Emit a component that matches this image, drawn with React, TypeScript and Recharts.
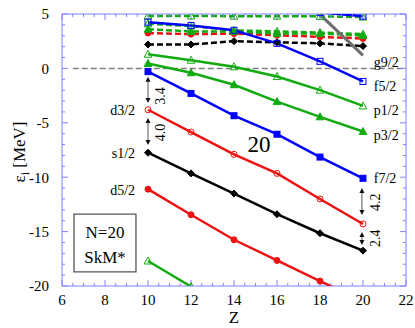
import React from 'react';
import { LineChart, Line, XAxis, YAxis, ReferenceLine, ReferenceArea, ReferenceDot } from 'recharts';

// ---------- data ----------
const Z = [10, 12, 14, 16, 18, 20];
const d52 = [-11.1, -13.45, -15.75, -17.65, -19.55, -21.4];
const s12 = [-7.75, -9.65, -11.5, -13.4, -15.15, -16.75];
const d32 = [-3.8, -5.85, -7.9, -9.65, -12.0, -14.3];
const f72 = [-0.3, -2.3, -4.35, -6.05, -8.15, -10.1];
const p32 = [0.45, -0.4, -1.5, -3.05, -4.45, -5.8];
const p12 = [1.3, 0.75, 0.15, -0.75, -2.0, -3.45];
const f52 = [4.25, 3.95, 3.5, 2.3, 0.65, -1.2];
const Zhigh = [18, 20];
const g92 = [4.95, 1.2];
const h112 = [5.15, 4.8];
const Zlow = [10, 12, 14];
const s12deep = [-17.7, -20.05, -22.3];
// dashed (unbound / resonance) levels
const gdTop = [4.82, 4.82, 4.8, 4.8, 4.78, 4.72];
const gdMid = [4.1, 3.9, 3.5, 3.4, 3.3, 3.15];
const gdLow = [3.6, 3.4, 3.4, 3.2, 3.2, 3.02];
const rdash = [3.25, 3.15, 3.2, 3.05, 2.9, 2.75];
const kdash = [2.2, 2.2, 2.5, 2.4, 2.3, 2.05];

const xTicks = [6, 8, 10, 12, 14, 16, 18, 20, 22];
const yTicks = [-20, -15, -10, -5, 0, 5];
const xMinor: number[] = [];
for (let v = 6; v <= 22.001; v += 0.5) xMinor.push(v);
const yMinor: number[] = [];
for (let v = -20; v <= 5; v += 1) yMinor.push(v);

const leftLabels = [
  { t: 'd3/2', e: -3.82 },
  { t: 's1/2', e: -7.78 },
  { t: 'd5/2', e: -11.18 },
];
const rightLabels = [
  { t: 'g9/2', e: 0.59 },
  { t: 'f5/2', e: -1.6 },
  { t: 'p1/2', e: -3.82 },
  { t: 'p3/2', e: -6.1 },
  { t: 'f7/2', e: -10.07 },
];
const gaps = [
  { z: 10, from: -0.77, to: -3.18, t: '3.4', tz: 10.56, te: -2.54 },
  { z: 10, from: -4.56, to: -7.04, t: '4.0', tz: 10.56, te: -5.9 },
  { z: 19.95, from: -11.0, to: -13.47, t: '4.2', tz: 20.55, te: -12.3 },
  { z: 19.95, from: -15.04, to: -16.23, t: '2.4', tz: 20.55, te: -15.6 },
];

const pts = (zs: number[], es: number[]) => zs.map((z, i) => ({ z, e: es[i] }));

const FONT = '"Liberation Serif", "Times New Roman", serif';
const AXIS = '#8080ff';
const RED = '#ee1111';
const GREEN = '#11aa11';
const BLUE = '#0000ff';

const marker = (kind: string, color: string, filled: boolean) => (p: any) => {
  const { cx, cy, key } = p;
  if (cx == null || cy == null || isNaN(cx) || isNaN(cy)) return <g key={key} />;
  const fill = filled ? color : 'none';
  const sw = 1;
  if (kind === 'sq')
    return <rect key={key} x={cx - 3} y={cy - 3} width={6} height={6} fill={fill} stroke={color} strokeWidth={sw} />;
  if (kind === 'ci')
    return <circle key={key} cx={cx} cy={cy} r={3} fill={fill} stroke={color} strokeWidth={sw} />;
  if (kind === 'tr')
    return (
      <polygon key={key} points={`${cx},${cy - 4} ${cx + 3.8},${cy + 3} ${cx - 3.8},${cy + 3}`} fill={fill} stroke={color} strokeWidth={sw} />
    );
  if (kind === 'di')
    return (
      <polygon key={key} points={`${cx},${cy - 3.5} ${cx + 3.5},${cy} ${cx},${cy + 3.5} ${cx - 3.5},${cy}`} fill={fill} stroke={color} strokeWidth={sw} />
    );
  return <g key={key} />;
};

const vTick = (len: number) => (p: any) => {
  const { x1, y1, y2 } = p;
  const top = Math.min(y1, y2);
  const bot = Math.max(y1, y2);
  return (
    <g>
      <line x1={x1} x2={x1} y1={bot} y2={bot - len} stroke={AXIS} strokeWidth={1} />
      <line x1={x1} x2={x1} y1={top} y2={top + len} stroke={AXIS} strokeWidth={1} />
    </g>
  );
};
const hTick = (len: number) => (p: any) => {
  const { x1, x2, y1 } = p;
  const l = Math.min(x1, x2);
  const r = Math.max(x1, x2);
  return (
    <g>
      <line x1={l} x2={l + len} y1={y1} y2={y1} stroke={AXIS} strokeWidth={1} />
      <line x1={r} x2={r - len} y1={y1} y2={y1} stroke={AXIS} strokeWidth={1} />
    </g>
  );
};

const arrowShape = (p: any) => {
  const { x1, y1, y2 } = p;
  const top = Math.min(y1, y2);
  const bot = Math.max(y1, y2);
  const h = 5;
  const w = 2.5;
  return (
    <g>
      <line x1={x1} x2={x1} y1={top + h - 1} y2={bot - h + 1} stroke="#555" strokeWidth={1} />
      <polygon points={`${x1},${top} ${x1 - w},${top + h} ${x1 + w},${top + h}`} fill="#111" />
      <polygon points={`${x1},${bot} ${x1 - w},${bot - h} ${x1 + w},${bot - h}`} fill="#111" />
    </g>
  );
};

const textShape = (t: string, anchor: string, size: number, rotate = 0) => (p: any) => (
  <text
    x={p.cx}
    y={p.cy}
    dy="0.35em"
    textAnchor={anchor}
    fontSize={size}
    fontFamily={FONT}
    fill="#000"
    transform={rotate ? `rotate(${rotate}, ${p.cx}, ${p.cy})` : undefined}
  >
    {t}
  </text>
);

const solid = [
  { d: pts(Zlow, s12deep), c: GREEN, m: marker('tr', GREEN, false) },
  { d: pts(Z, d52), c: RED, m: marker('ci', RED, true) },
  { d: pts(Z, s12), c: '#000', m: marker('di', '#000', true) },
  { d: pts(Z, d32), c: RED, m: marker('ci', RED, false) },
  { d: pts(Z, f72), c: BLUE, m: marker('sq', BLUE, true) },
  { d: pts(Z, p32), c: GREEN, m: marker('tr', GREEN, true) },
  { d: pts(Z, p12), c: GREEN, m: marker('tr', GREEN, false) },
  { d: pts(Z, f52), c: BLUE, m: marker('sq', BLUE, false) },
  { d: pts(Zhigh, h112), c: BLUE, m: marker('sq', BLUE, false) },
];
const dashed = [
  { d: pts(Z, kdash), c: '#000', m: marker('di', '#000', true) },
  { d: pts(Z, rdash), c: RED, m: marker('ci', RED, true) },
  { d: pts(Z, gdLow), c: GREEN, m: marker('tr', GREEN, true) },
  { d: pts(Z, gdMid), c: GREEN, m: marker('tr', GREEN, false) },
  { d: pts(Z, gdTop), c: GREEN, m: marker('tr', GREEN, false) },
];

export default function App() {
  return (
    <div style={{ position: 'absolute', left: 0, top: 0, width: 415, height: 328, background: '#fff' }}>
      <LineChart width={415} height={328} margin={{ top: 14, right: 9, bottom: 0, left: 0 }}>
        <XAxis
          type="number"
          dataKey="z"
          domain={[6, 22]}
          ticks={xTicks}
          interval={0}
          allowDataOverflow
          height={42}
          axisLine={false}
          tickLine={false}
          tickMargin={2}
          tick={{ fontSize: 15, fill: '#000', fontFamily: FONT }}
          label={{
            content: (p: any) => {
              const vb = p.viewBox;
              return (
                <text x={vb.x + vb.width / 2} y={323} textAnchor="middle" fontSize={17} fontFamily={FONT} fill="#000">
                  Z
                </text>
              );
            },
          }}
        />
        <YAxis
          type="number"
          dataKey="e"
          domain={[-20, 5]}
          ticks={yTicks}
          interval={0}
          allowDataOverflow
          width={62}
          axisLine={false}
          tickLine={false}
          tickMargin={7}
          tick={{ fontSize: 15, fill: '#000', fontFamily: FONT }}
          label={{
            content: (p: any) => {
              const vb = p.viewBox;
              const cy = vb.y + vb.height / 2 + 2;
              return (
                <text
                  x={25}
                  y={cy}
                  textAnchor="middle"
                  fontSize={17}
                  fontFamily={FONT}
                  fill="#000"
                  transform={`rotate(-90, 25, ${cy})`}
                >
                  ε<tspan fontSize={12} dy={4}>i</tspan>
                  <tspan dy={-4}> [MeV]</tspan>
                </text>
              );
            },
          }}
        />

        <ReferenceLine
          segment={[{ x: 6.5, y: 0 }, { x: 22, y: 0 }]}
          stroke="#808080"
          strokeWidth={1.5}
          strokeDasharray="6 3"
        />

        {dashed.map((s, i) => (
          <Line
            key={'d' + i}
            data={s.d}
            dataKey="e"
            type="linear"
            stroke={s.c}
            strokeWidth={2.5}
            strokeDasharray="6 3"
            dot={s.m}
            activeDot={false}
            isAnimationActive={false}
          />
        ))}
        {solid.map((s, i) => (
          <Line
            key={'s' + i}
            data={s.d}
            dataKey="e"
            type="linear"
            stroke={s.c}
            strokeWidth={2.5}
            dot={s.m}
            activeDot={false}
            isAnimationActive={false}
          />
        ))}
        <Line
          data={pts(Zhigh, g92)}
          dataKey="e"
          type="linear"
          stroke="#6e6e6e"
          strokeWidth={3}
          dot={false}
          activeDot={false}
          isAnimationActive={false}
        />

        {xMinor.map((v) => (
          <ReferenceLine key={'xm' + v} x={v} shape={vTick(Math.abs(v - Math.round(v / 2) * 2) < 1e-6 ? 6 : 3)} />
        ))}
        {yMinor.map((v) => (
          <ReferenceLine key={'ym' + v} y={v} shape={hTick(v % 5 === 0 ? 6 : 3)} />
        ))}
        <ReferenceArea x1={6} x2={22} y1={-20} y2={5} fill="#fff" fillOpacity={0} stroke={AXIS} strokeWidth={1} strokeOpacity={1} />

        {gaps.map((g, i) => (
          <ReferenceLine key={'ga' + i} segment={[{ x: g.z, y: g.from }, { x: g.z, y: g.to }]} shape={arrowShape} />
        ))}
        {gaps.map((g, i) => (
          <ReferenceDot key={'gt' + i} x={g.tz} y={g.te} r={0} shape={textShape(g.t, 'middle', 14, -90)} />
        ))}
        {leftLabels.map((l) => (
          <ReferenceDot key={l.t} x={9.4} y={l.e} r={0} shape={textShape(l.t, 'end', 14)} />
        ))}
        {rightLabels.map((l) => (
          <ReferenceDot key={l.t} x={20.5} y={l.e} r={0} shape={textShape(l.t, 'start', 14)} />
        ))}
        <ReferenceDot x={15.16} y={-6.95} r={0} shape={textShape('20', 'middle', 23)} />

        <ReferenceArea x1={6.56} x2={9.44} y1={-18.7} y2={-13.4} fill="#fff" fillOpacity={1} stroke="#555" strokeWidth={1.3} strokeOpacity={1} />
        <ReferenceDot x={8} y={-15.0} r={0} shape={textShape('N=20', 'middle', 17)} />
        <ReferenceDot x={8} y={-17.3} r={0} shape={textShape('SkM*', 'middle', 17)} />
      </LineChart>
    </div>
  );
}
